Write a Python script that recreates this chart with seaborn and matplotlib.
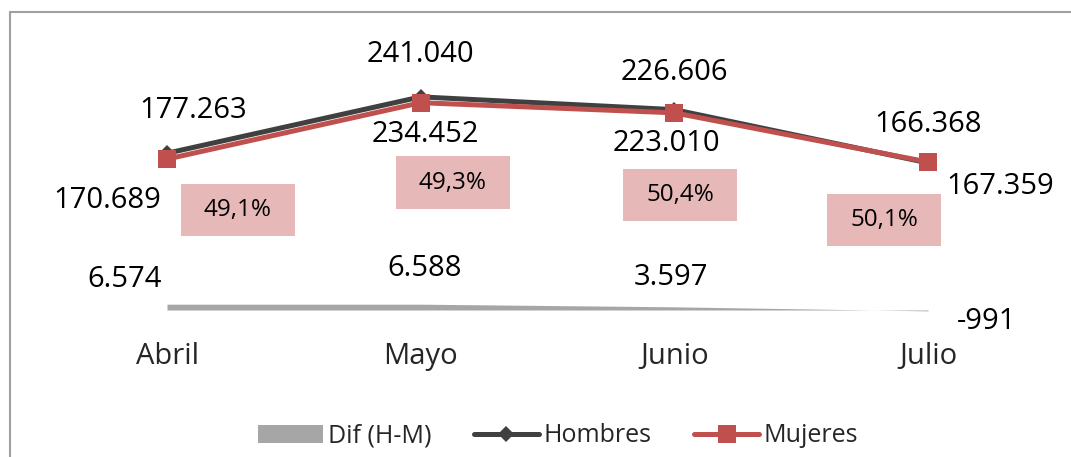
import matplotlib
matplotlib.use("Agg")
import matplotlib.pyplot as plt
import seaborn as sns
import pandas as pd
from matplotlib.lines import Line2D

# ---- data ----
months = ["Abril", "Mayo", "Junio", "Julio"]
hombres = [177263, 241040, 226606, 166368]
mujeres = [170689, 234452, 223010, 167359]
dif = [6574, 6588, 3597, -991]
pct_labels = ["49,1%", "49,3%", "50,4%", "50,1%"]

def fmt(v):
    return f"{v:,}".replace(",", ".")

sns.set_theme(style="white")
plt.rcParams["font.family"] = ["Open Sans", "DejaVu Sans"]

W, H = 1071, 457
fig = plt.figure(figsize=(W / 100, H / 100), dpi=100)

# axes placement (pixel-derived)
ax_left, ax_top, ax_bottom = 10, 12, 335
ax = fig.add_axes([ax_left / W, 1 - ax_bottom / H, 1 - ax_left / W, (ax_bottom - ax_top) / H])

x = list(range(len(months)))
df = pd.DataFrame({"x": x, "Hombres": hombres, "Mujeres": mujeres, "Dif": dif})

ax.fill_between(df["x"], 0, df["Dif"], color="#a6a6a6", linewidth=0, label="Dif (H-M)", zorder=1)
sns.lineplot(data=df, x="x", y="Hombres", ax=ax, color="#404040", linewidth=3.6,
             marker="D", markersize=8, markeredgewidth=0, label="Hombres", zorder=3)
sns.lineplot(data=df, x="x", y="Mujeres", ax=ax, color="#c0504d", linewidth=3.6,
             marker="s", markersize=13, markeredgewidth=0, label="Mujeres", zorder=4)

# scales: value 0 at y=310px, 1131 units per px; x 0 at 167px, 253.67px per step
upp = 1131
ax.set_ylim((310 - ax_bottom) * upp, (310 - ax_top) * upp)
pxs = 253.67
ax.set_xlim((ax_left - 167) / pxs, (W - 167) / pxs)

ax.set_xticks(x, months)
ax.tick_params(axis="x", length=0, pad=5, labelsize=21)
ax.set_yticks([])
ax.set_xlabel("")
ax.set_ylabel("")
for s in ax.spines.values():
    s.set_visible(False)
ax.patch.set_alpha(0)

lab_kw = dict(textcoords="offset pixels", ha="center", va="center", fontsize=21, color="black")
h_off = [(26, 43), (0, 42), (0, 37), (0, 38)]
m_off = [(-60, -41), (5, -32), (-8, -31), (72, -24)]
d_off = [(-42, 25), (4, 36), (-3, 29), (59, -11)]
p_off = [(71, -51), (32, -80), (6, -82), (-44, -58)]
for i in x:
    ax.annotate(fmt(hombres[i]), (i, hombres[i]), xytext=h_off[i], **lab_kw)
    ax.annotate(fmt(mujeres[i]), (i, mujeres[i]), xytext=m_off[i], **lab_kw)
    ax.annotate(fmt(dif[i]), (i, dif[i]), xytext=d_off[i], **lab_kw)
    ax.annotate(pct_labels[i], (i, mujeres[i]), xytext=p_off[i], textcoords="offset pixels",
                ha="center", va="center", fontsize=17.5, color="black", zorder=5,
                bbox=dict(boxstyle="square,pad=0.95", mutation_aspect=0.62, fc="#e6b9b8", ec="none"))

# legend
handles, labels = ax.get_legend_handles_labels()
order = ["Dif (H-M)", "Hombres", "Mujeres"]
hmap = dict(zip(labels, handles))
if ax.get_legend() is not None:
    ax.get_legend().remove()
fig.legend([hmap[k] for k in order], order, loc="center", bbox_to_anchor=(558 / W, 1 - 436 / H),
           ncol=3, frameon=False, fontsize=18, handlelength=2.6, handletextpad=0.2,
           columnspacing=1.7)

# outer frame (left and top lines)
fc = "#a0a0a0"
fig.add_artist(Line2D([10 / W, 10 / W], [0, 1 - 12 / H], color=fc, lw=1.5, transform=fig.transFigure))
fig.add_artist(Line2D([10 / W, 1], [1 - 12 / H, 1 - 12 / H], color=fc, lw=1.5, transform=fig.transFigure))

fig.savefig("out.png", dpi=100, facecolor="white")
